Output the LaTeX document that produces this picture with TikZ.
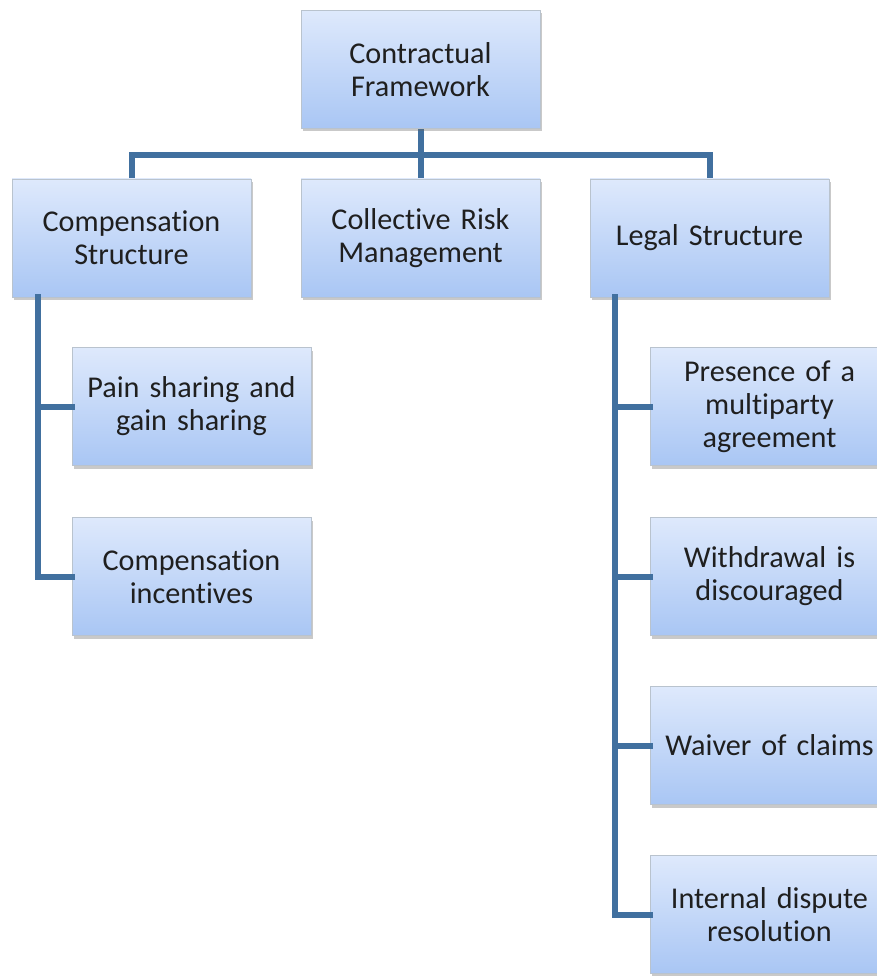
\documentclass[tikz,border=0pt]{standalone}
\usepackage{fontspec}
\setmainfont{Carlito}[Ligatures=NoCommon, WordSpace=0.75]
\usetikzlibrary{shadows}
\definecolor{boxtop}{HTML}{DEE9FC}
\definecolor{boxbot}{HTML}{A9C6F4}
\definecolor{boxedge}{HTML}{B9C3CE}
\definecolor{linkblue}{HTML}{41709F}
\tikzset{
  box/.style={rectangle, draw=boxedge, line width=0.8pt,
    top color=boxtop, bottom color=boxbot,
    minimum width=239pt, minimum height=118pt, inner sep=2pt,
    text width=234pt, align=center, text=black!88,
    font=\fontsize{30.2}{33}\selectfont,
    drop shadow={shadow xshift=2pt, shadow yshift=-3pt, opacity=0.35, fill=black!60}},
  link/.style={draw=linkblue, line width=6pt, line cap=rect}
}
\begin{document}
\begin{tikzpicture}[x=1pt, y=-1pt]
\useasboundingbox (0,0) rectangle (877,976);
\clip (0,0) rectangle (877,976);
\fill[white] (0,0) rectangle (877,976);

% reference positions for the connector lines
\coordinate (bar) at (0,155);
\coordinate (ltrunk) at (38,0);
\coordinate (rtrunk) at (615,0);

% connectors between the upper levels (drawn first so the boxes sit on top)
\path (420.5,69.5) coordinate (topc) (131.5,238) coordinate (compc)
      (420.5,238) coordinate (collc) (709.5,238) coordinate (legalc);
\draw[link] (topc) -- (collc);
\draw[link] (compc) -- (compc |- bar) -- (legalc |- bar) -- (legalc);

% boxes
\node[box] (top)   at (topc)   {Contractual\\Framework};
\node[box] (comp)  at (compc)  {Compensation\\Structure};
\node[box] (coll)  at (collc)  {Collective Risk\\Management};
\node[box] (legal) at (legalc) {Legal Structure};

\node[box] (pain) at (191.5,406.5) {Pain sharing and\\gain sharing};
\node[box] (inc)  at (191.5,576.5) {Compensation\\incentives};

\node[box] (multi)    at (769.5,406.5) {Presence of a\\multiparty\\agreement};
\node[box] (withdraw) at (769.5,576.5) {Withdrawal is\\discouraged};
\node[box] (waiver)   at (769.5,745.5) {Waiver of claims};
\node[box] (dispute)  at (769.5,914.5) {Internal dispute\\resolution};

% branch lines down the left and right trunks
\draw[link] (comp.south -| ltrunk) -- (inc.west -| ltrunk) -- (inc.west);
\draw[link] (pain.west -| ltrunk) -- (pain.west);
\draw[link] (legal.south -| rtrunk) -- (dispute.west -| rtrunk) -- (dispute.west);
\draw[link] (multi.west -| rtrunk) -- (multi.west);
\draw[link] (withdraw.west -| rtrunk) -- (withdraw.west);
\draw[link] (waiver.west -| rtrunk) -- (waiver.west);
\end{tikzpicture}
\end{document}
